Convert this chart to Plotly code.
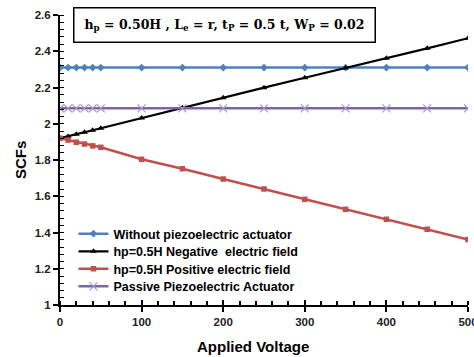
import plotly.graph_objects as go

voltage = [0, 10, 20, 30, 40, 50, 100, 150, 200, 250, 300, 350, 400, 450, 500]
without_actuator = [2.31] * len(voltage)
negative_field = [1.92, 1.93, 1.942, 1.953, 1.964, 1.975, 2.032, 2.088, 2.144, 2.199, 2.254, 2.307, 2.361, 2.416, 2.472]
positive_field = [1.92, 1.91, 1.898, 1.888, 1.878, 1.870, 1.804, 1.752, 1.695, 1.640, 1.583, 1.528, 1.473, 1.418, 1.361]
passive_actuator = [2.085] * len(voltage)

series_names = [
    "Without piezoelectric actuator",
    "hp=0.5H Negative  electric field",
    "hp=0.5H Positive electric field",
    "Passive Piezoelectric Actuator",
]

y_ticks = [1, 1.2, 1.4, 1.6, 1.8, 2, 2.2, 2.4, 2.6]
y_tick_labels = ["1", "1.2", "1.4", "1.6", "1.8", "2", "2.2", "2.4", "2.6"]
x_ticks = [0, 100, 200, 300, 400, 500]

FONT = "Liberation Sans, Arial, sans-serif"

fig = go.Figure()
fig.add_trace(go.Scatter(x=voltage, y=without_actuator, name=series_names[0], mode="lines+markers",
                         legend="legend",
                         line=dict(color="#4F81BD", width=2.5),
                         marker=dict(symbol="diamond", size=6, color="#4F81BD")))
fig.add_trace(go.Scatter(x=voltage, y=negative_field, name=series_names[1], mode="lines+markers",
                         legend="legend2",
                         line=dict(color="#000000", width=2.2),
                         marker=dict(symbol="triangle-up", size=6, color="#000000")))
fig.add_trace(go.Scatter(x=voltage, y=positive_field, name=series_names[2], mode="lines+markers",
                         legend="legend3",
                         line=dict(color="#C0504D", width=2.5),
                         marker=dict(symbol="square", size=5.5, color="#C0504D")))
fig.add_trace(go.Scatter(x=voltage, y=passive_actuator, name=series_names[3], mode="lines+markers",
                         legend="legend4",
                         line=dict(color="#8064A2", width=2.5),
                         marker=dict(symbol="x-thin", size=8, color="#A896C8",
                                     line=dict(color="#A896C8", width=1.2))))
# invisible trace to carry the secondary x axis for crossing major ticks
fig.add_trace(go.Scatter(x=[voltage[0], voltage[-1]], y=[None, None], xaxis="x2",
                         showlegend=False, hoverinfo="skip"))

legend_font = dict(family=FONT, size=12.5, color="#000000", weight="bold")
def leg(y):
    return dict(x=0.033, y=y, xanchor="left", yanchor="middle", bgcolor="rgba(0,0,0,0)",
                itemwidth=30, font=legend_font, borderwidth=0)

fig.update_layout(
    width=474, height=357,
    margin=dict(l=60, r=6, t=15, b=52),
    paper_bgcolor="white", plot_bgcolor="white",
    font=dict(family=FONT, color="#000000"),
    showlegend=True,
    legend=leg(0.2448), legend2=leg(0.1838), legend3=leg(0.1241), legend4=leg(0.0631),
    xaxis=dict(range=[0, 500], showgrid=False, zeroline=False, automargin=False,
               showline=True, linecolor="#000000", linewidth=2,
               tickvals=x_ticks, ticks="outside", ticklen=5, tickwidth=1.5, tickcolor="#000000",
               ticklabeloverflow="allow",
               tickfont=dict(family=FONT, size=11.5, color="#222222", weight="bold"),
               minor=dict(dtick=20, ticks="inside", ticklen=4, tickwidth=1.5, tickcolor="#000000"),
               anchor="y"),
    xaxis2=dict(range=[0, 500], overlaying="x", anchor="y", side="bottom", automargin=False,
                tickvals=x_ticks, ticks="inside", ticklen=5, tickwidth=1.5, tickcolor="#000000",
                showticklabels=False, showgrid=False, zeroline=False, showline=False),
    yaxis=dict(range=[1, 2.6], showgrid=False, zeroline=False, automargin=False,
               showline=True, linecolor="#000000", linewidth=2,
               tickvals=y_ticks, ticktext=y_tick_labels,
               ticks="outside", ticklen=5, tickwidth=1.5, tickcolor="#000000",
               tickfont=dict(family=FONT, size=11.5, color="#222222", weight="bold"),
               minor=dict(dtick=0.04, ticks="inside", ticklen=4, tickwidth=1.2, tickcolor="#000000")),
    annotations=[
        dict(text="<b>h<sub>p</sub> = 0.50H , L<sub>e</sub> = r, t<sub>P</sub> = 0.5 t, W<sub>P</sub> = 0.02</b>",
             xref="paper", yref="paper", x=0.402, y=0.9655, xanchor="center", yanchor="middle",
             width=298, height=31, align="center", valign="middle",
             bordercolor="#000000", borderwidth=1.5, borderpad=1, bgcolor="white",
             showarrow=False, font=dict(family="DejaVu Serif, serif", size=12.5, color="#000000")),
        dict(text="<b>SCFs</b>", xref="paper", yref="paper", x=-0.098, y=0.5, textangle=-90,
             xanchor="center", yanchor="middle", showarrow=False,
             font=dict(family=FONT, size=15, color="#000000")),
        dict(text="<b>Applied Voltage</b>", xref="paper", yref="paper", x=0.473, y=-0.143,
             xanchor="center", yanchor="middle", showarrow=False,
             font=dict(family=FONT, size=15, color="#000000")),
    ],
)

fig.write_html("out.html", config={"displayModeBar": False},
               post_script="document.body.style.margin='0';")
